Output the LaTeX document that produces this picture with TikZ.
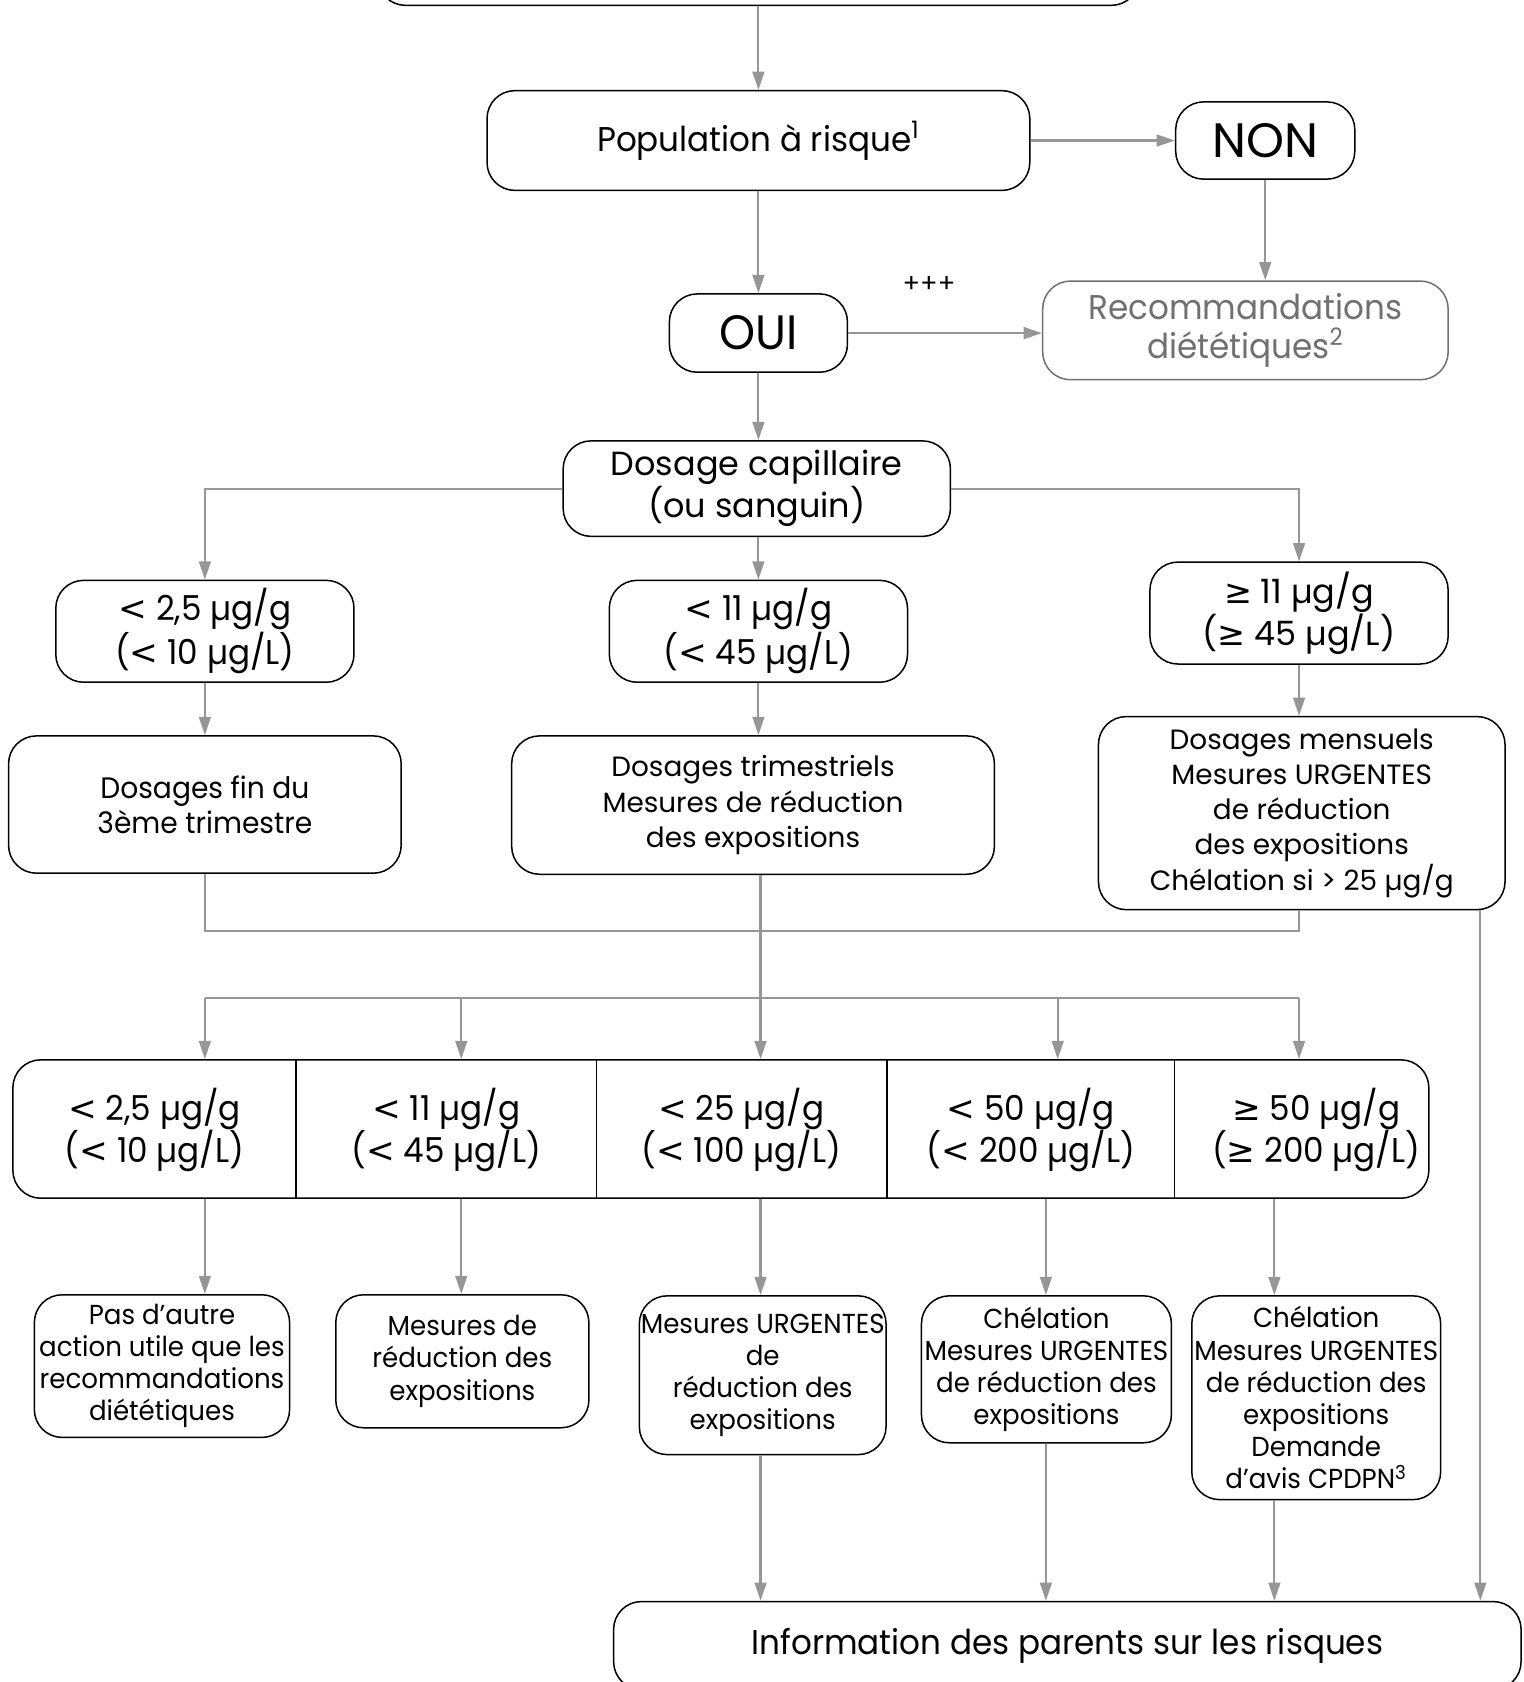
\documentclass[tikz,border=0pt]{standalone}
\usepackage{fontspec}
\setmainfont{Poppins}
\newfontfamily\popc{Poppins}[FakeStretch=0.95]
\newfontfamily\dvs{DejaVu Sans}
\usetikzlibrary{arrows.meta,calc}
\definecolor{conn}{RGB}{150,150,150}
\definecolor{recogray}{RGB}{112,112,112}
\newcommand\gesym{{\dvs ≥}}
\newcommand\ltsym{{\dvs <}}
\begin{document}
\begin{tikzpicture}[x=0.5pt,y=-0.5pt,
  bx/.style={draw=black, line width=0.7pt, rounded corners=13pt, align=center, inner sep=0pt},
  cn/.style={draw=conn, line width=1pt},
  ar/.style={cn, -{Triangle[length=8.5pt,width=5.5pt]}},
  fbig/.style={font=\popc\fontsize{22.5}{24}\selectfont},
  fnon/.style={font=\fontsize{22.5}{24}\selectfont},
  fmid/.style={font=\popc\fontsize{16}{18.5}\selectfont},
  fmidn/.style={font=\fontsize{15.6}{19.5}\selectfont},
  fsm/.style={font=\fontsize{13}{16.4}\selectfont},
  fsmc/.style={font=\popc\fontsize{13.8}{16.5}\selectfont},
  frow/.style={font=\popc\fontsize{16}{19.5}\selectfont},
  fbot/.style={font=\popc\fontsize{12.8}{15}\selectfont},
]
\useasboundingbox (0,0) rectangle (1420,1568);
% top part
\node[bx, minimum width=355pt, minimum height=40pt] (top) at (707,-35) {};
\node[bx, fmid, minimum width=253pt, minimum height=46.5pt] (pop) at (707,131) {Population à risque\textsuperscript{1}};
\node[bx, fnon, minimum width=83.5pt, minimum height=36pt] (non) at (1179.5,131) {NON};
\node[bx, fmid, draw=recogray, text=recogray, minimum width=189pt, minimum height=46pt] (reco) at (1161,308) {Recommandations\\diététiques\textsuperscript{2}};
\node[bx, fbig, minimum width=83pt, minimum height=36.5pt] (oui) at (707,310.5) {OUI};
\node[font=\fontsize{12}{14}\selectfont] (ppp) at (866,265) {+++};
\node[bx, fmidn, minimum width=180.5pt, minimum height=44.5pt] (dos) at (705.5,455.5) {Dosage capillaire\\(ou sanguin)};
% second level
\node[bx, fmid, minimum width=139pt, minimum height=47.5pt] (b1) at (191,588.5) {\ltsym{} 2,5 µg/g\\(\ltsym{} 10 µg/L)};
\node[bx, fmid, minimum width=139pt, minimum height=47.5pt] (b2) at (707,588.5) {\ltsym{} 11 µg/g\\(\ltsym{} 45 µg/L)};
\node[bx, fmidn, minimum width=139pt, minimum height=47.5pt] (b3) at (1211,571.5) {\gesym{} 11 µg/g\\(\gesym{} 45 µg/L)};
\node[bx, fsmc, minimum width=183pt, minimum height=64pt] (b4) at (191,750) {Dosages fin du\\3ème trimestre};
\node[bx, fsm, minimum width=225pt, minimum height=64.5pt] (b5) at (702,750.5) {Dosages trimestriels\\Mesures de réduction\\des expositions};
\node[bx, fsm, minimum width=189.5pt, minimum height=90pt] (b6) at (1213.5,758) {Dosages mensuels\\Mesures URGENTES\\de réduction\\des expositions\\Chélation si > 25 µg/g};
% row
\node[bx, minimum width=660pt, minimum height=64.5pt] (row) at (672,1052.5) {};
\draw[line width=0.7pt] (276,988) -- (276,1117) (556,988) -- (556,1117) (827,988) -- (827,1117) (1095,988) -- (1095,1117);
\node[frow, align=center] (c1) at (144,1053) {\ltsym{} 2,5 µg/g\\(\ltsym{} 10 µg/L)};
\node[frow, align=center] (c2) at (416,1053) {\ltsym{} 11 µg/g\\(\ltsym{} 45 µg/L)};
\node[frow, align=center] (c3) at (691,1053) {\ltsym{} 25 µg/g\\(\ltsym{} 100 µg/L)};
\node[frow, align=center] (c4) at (961,1053) {\ltsym{} 50 µg/g\\(\ltsym{} 200 µg/L)};
\node[frow, align=center] (c5) at (1227,1053) {\gesym{} 50 µg/g\\(\gesym{} 200 µg/L)};
% bottom boxes
\node[bx, fbot, minimum width=119pt, minimum height=66.5pt] (d1) at (151,1273.5) {Pas d’autre\\action utile que les\\recommandations\\diététiques};
\node[bx, fbot, minimum width=118pt, minimum height=62pt] (d2) at (431,1269) {Mesures de\\réduction des\\expositions};
\node[bx, fbot, minimum width=115pt, minimum height=74pt] (d3) at (711,1282) {Mesures URGENTES\\de\\réduction des\\expositions};
\node[bx, fbot, minimum width=116.5pt, minimum height=68.5pt] (d4) at (975.5,1276.5) {Chélation\\Mesures URGENTES\\de réduction des\\expositions};
\node[bx, fbot, minimum width=116pt, minimum height=95pt] (d5) at (1227,1303) {Chélation\\Mesures URGENTES\\de réduction des\\expositions\\Demande\\d’avis CPDPN\textsuperscript{3}};
\node[bx, fmid, minimum width=423pt, minimum height=41pt] (info) at (995,1534) {Information des parents sur les risques};
% coordinates
\coordinate (mR) at (1211,868);
\coordinate (t5) at (709,930);
\coordinate (s1) at (191,930);
\coordinate (s2) at (430,930);
\coordinate (s4) at (986,930);
\coordinate (s5) at (1211,930);
\coordinate (xr) at (1380,0);
\coordinate (r1) at (191,0);
\coordinate (r2) at (430,0);
\coordinate (r3) at (709,0);
\coordinate (r4) at (975,0);
\coordinate (r5) at (1188,0);
% connectors
\draw[ar] (top.south) -- (pop.north);
\draw[ar] (pop.east) -- (non.west);
\draw[ar] (non.south) -- (non.south |- reco.north);
\draw[ar] (pop.south) -- (oui.north);
\draw[ar] (oui.east) -- (oui.east -| reco.west);
\draw[ar] (oui.south) -- (oui.south |- dos.north);
\draw[ar] (dos.west) -| (b1.north);
\draw[ar] (oui.south |- dos.south) -- (b2.north);
\draw[ar] (dos.east) -| (b3.north);
\draw[ar] (b1.south) -- (b4.north);
\draw[ar] (b2.south) -- (b2.south |- b5.north);
\draw[ar] (b3.south) -- (b3.south |- b6.north);
\draw[cn] (b4.south) |- (mR) -- (mR |- b6.south);
\draw[cn] (t5 |- b5.south) -- (t5);
\draw[cn] (s1) -- (s5);
\draw[ar] (s1) -- (s1 |- row.north);
\draw[ar] (s2) -- (s2 |- row.north);
\draw[ar] (t5) -- (t5 |- row.north);
\draw[ar] (s4) -- (s4 |- row.north);
\draw[ar] (s5) -- (s5 |- row.north);
\draw[ar] (xr |- b6.south) -- (xr |- info.north);
\draw[ar] (r1 |- row.south) -- (r1 |- d1.north);
\draw[ar] (r2 |- row.south) -- (r2 |- d2.north);
\draw[ar] (r3 |- row.south) -- (r3 |- d3.north);
\draw[ar] (r4 |- row.south) -- (r4 |- d4.north);
\draw[ar] (r5 |- row.south) -- (r5 |- d5.north);
\draw[ar] (r3 |- d3.south) -- (r3 |- info.north);
\draw[ar] (r4 |- d4.south) -- (r4 |- info.north);
\draw[ar] (r5 |- d5.south) -- (r5 |- info.north);
\end{tikzpicture}
\end{document}
